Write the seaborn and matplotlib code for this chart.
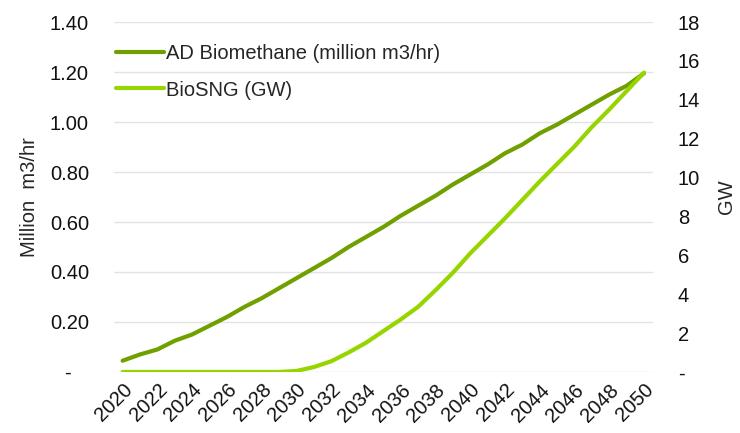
import pandas as pd
import matplotlib.pyplot as plt
import seaborn as sns
import numpy as np

# Data
years = list(range(2020, 2051))
ad_biomethane = [0.045, 0.07, 0.09, 0.125, 0.15, 0.185, 0.22, 0.26, 0.295, 0.335,
                 0.375, 0.415, 0.455, 0.50, 0.54, 0.58, 0.625, 0.665, 0.705, 0.75,
                 0.79, 0.83, 0.875, 0.91, 0.955, 0.99, 1.03, 1.07, 1.11, 1.145, 1.195]
biosng_gw = [0, 0, 0, 0, 0, 0, 0, 0, 0, 0,
             0.05, 0.25, 0.55, 1.0, 1.5, 2.1, 2.7, 3.35, 4.2, 5.1,
             6.1, 7.0, 7.9, 8.85, 9.8, 10.7, 11.6, 12.6, 13.5, 14.45, 15.4]

df = pd.DataFrame({"year": years, "ad": ad_biomethane, "bio": biosng_gw})

sns.set_style("white")
plt.rcParams["font.family"] = ["Liberation Sans", "DejaVu Sans"]

c_ad = "#6fa000"
c_bio = "#97d500"
fs = 14.5

fig = plt.figure(figsize=(7.4, 4.33), dpi=100)
ax = fig.add_axes([0.154, 0.141, 0.728, 0.808])
ax2 = ax.twinx()

sns.lineplot(data=df, x="year", y="ad", ax=ax, color=c_ad, linewidth=3,
             label="AD Biomethane (million m3/hr)", legend=False)
sns.lineplot(data=df, x="year", y="bio", ax=ax2, color=c_bio, linewidth=3,
             label="BioSNG (GW)", legend=False)

ax.set_ylim(0, 1.4)
ax.set_yticks(np.arange(0, 1.41, 0.2))
ax.set_yticklabels(["-   "] + [f"{v:.2f}" for v in np.arange(0.2, 1.41, 0.2)])
ax2.set_ylim(0, 18)
ax2.set_yticks(range(0, 19, 2))
ax2.set_yticklabels(["-"] + [str(v) for v in range(2, 19, 2)])

ax.set_xlim(2019.5, 2050.5)
ax.set_xticks(range(2020, 2051, 2))
ax.set_xticklabels([str(y) for y in range(2020, 2051, 2)], rotation=45,
                   ha="right", rotation_mode="anchor")

ax.grid(axis="y", color="#e3e3e3", linewidth=1)
ax.set_axisbelow(True)
for a in (ax, ax2):
    for s in a.spines.values():
        s.set_visible(False)
    a.tick_params(length=0, labelsize=fs, colors="#111111")
ax.tick_params(axis="y", pad=18)
ax2.tick_params(axis="y", pad=18)
ax.tick_params(axis="x", pad=6)

ax.set_xlabel("")
ax.set_ylabel("Million  m3/hr", fontsize=fs, labelpad=8)
ax2.set_ylabel("GW", fontsize=fs, labelpad=12)

h1, l1 = ax.get_legend_handles_labels()
h2, l2 = ax2.get_legend_handles_labels()
ax2.legend(h1 + h2, l1 + l2, loc="upper left", frameon=False, fontsize=fs,
           handlelength=2.4, handletextpad=0.1, bbox_to_anchor=(-0.03, 0.988),
           labelspacing=0.85)

fig.savefig("out.png", dpi=100)
